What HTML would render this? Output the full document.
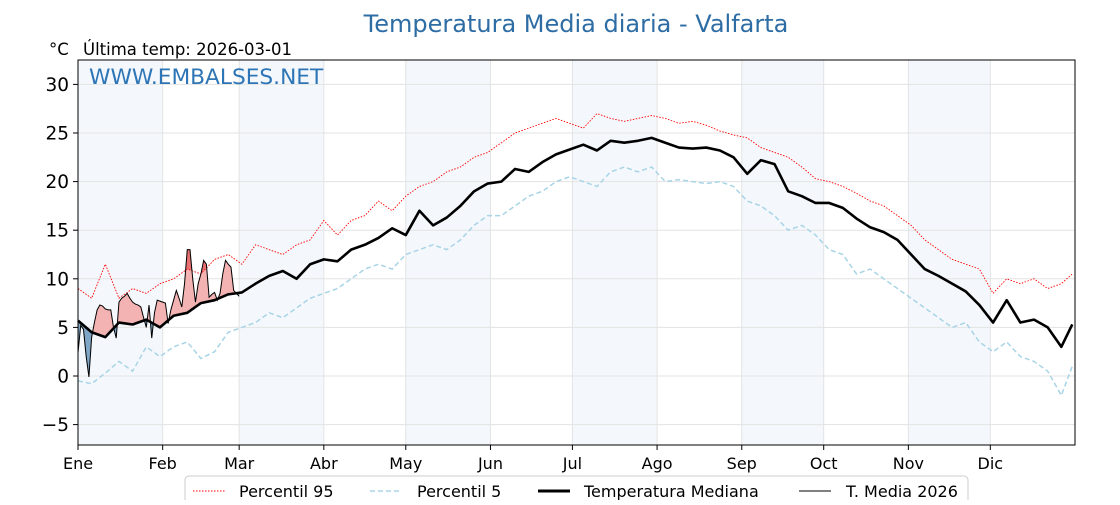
<!DOCTYPE html>
<html><head><meta charset="utf-8"><style>
body{margin:0;background:#fff;}
svg text{font-family:"DejaVu Sans","Liberation Sans",sans-serif;}
</style></head><body>
<svg id="chart" width="1120" height="500" xmlns="http://www.w3.org/2000/svg">
<text x="576" y="32" text-anchor="middle" font-size="24" fill="#2e6da4">Temperatura Media diaria - Valfarta</text>
<text x="49" y="55" font-size="16.5" fill="#000">°C</text>
<text x="83" y="55" font-size="16.5" fill="#000">Última temp: 2026-03-01</text>
<g id="bands"></g><g id="grid"></g><g id="fills"></g><g id="lines"></g>
<rect x="78" y="60" width="997" height="385" fill="none" stroke="#000" stroke-width="1"/>
<text x="89" y="84" font-size="21.7" fill="#2e75b6">WWW.EMBALSES.NET</text>
<g id="axes"></g>
<g>
<rect x="185" y="476" width="783" height="34" rx="4" fill="#fff" stroke="#ccc"/>
<g><line x1="193" y1="491" x2="225" y2="491" stroke="red" stroke-width="1" stroke-dasharray="1.5,1.5"/><text x="239" y="497" font-size="16">Percentil 95</text></g>
<g><line x1="370" y1="491" x2="402" y2="491" stroke="#a8d4e6" stroke-width="1.5" stroke-dasharray="5,3"/><text x="417" y="497" font-size="16">Percentil 5</text></g>
<g><line x1="538" y1="491" x2="570" y2="491" stroke="#000" stroke-width="3"/><text x="584" y="497" font-size="16">Temperatura Mediana</text></g>
<g><line x1="799" y1="491" x2="831" y2="491" stroke="#000" stroke-width="1"/><text x="846" y="497" font-size="16">T. Media 2026</text></g>
</g>
</svg>
<script>
const months=["Ene","Feb","Mar","Abr","May","Jun","Jul","Ago","Sep","Oct","Nov","Dic"];
const monthStart=[0,31,59,90,120,151,181,212,243,273,304,334];
const yTicks=[-5,0,5,10,15,20,25,30];
const sampleDays=[0,5,10,15,20,25,30,35,40,45,50,55,60,65,70,75,80,85,90,95,100,105,110,115,120,125,130,135,140,145,150,155,160,165,170,175,180,185,190,195,200,205,210,215,220,225,230,235,240,245,250,255,260,265,270,275,280,285,290,295,300,305,310,315,320,325,330,335,340,345,350,355,360,364];
const median=[5.7,4.5,4.0,5.5,5.3,5.8,5.0,6.2,6.5,7.5,7.8,8.4,8.6,9.5,10.3,10.8,10.0,11.5,12.0,11.8,13.0,13.5,14.2,15.2,14.5,17.0,15.5,16.3,17.5,19.0,19.8,20.0,21.3,21.0,22.0,22.8,23.3,23.8,23.2,24.2,24.0,24.2,24.5,24.0,23.5,23.4,23.5,23.2,22.5,20.8,22.2,21.8,19.0,18.5,17.8,17.8,17.3,16.2,15.3,14.8,14.0,12.5,11.0,10.3,9.5,8.7,7.3,5.5,7.8,5.5,5.8,5.0,3.0,5.3];
const p95=[9.0,8.0,11.5,8.0,9.0,8.5,9.5,10.0,11.0,10.5,12.0,12.5,11.5,13.5,13.0,12.5,13.5,14.0,16.0,14.5,16.0,16.5,18.0,17.0,18.5,19.5,20.0,21.0,21.5,22.5,23.0,24.0,25.0,25.5,26.0,26.5,26.0,25.5,27.0,26.5,26.2,26.5,26.8,26.5,26.0,26.2,25.8,25.2,24.8,24.5,23.5,23.0,22.5,21.5,20.3,20.0,19.5,18.8,18.0,17.5,16.5,15.5,14.0,13.0,12.0,11.5,11.0,8.5,10.0,9.5,10.0,9.0,9.5,10.5];
const p5=[-0.5,-0.8,0.3,1.5,0.5,3.0,2.0,3.0,3.5,1.8,2.5,4.5,5.0,5.5,6.5,6.0,7.0,8.0,8.5,9.0,10.0,11.0,11.5,11.0,12.5,13.0,13.5,13.0,14.0,15.5,16.5,16.5,17.5,18.5,19.0,20.0,20.5,20.0,19.5,21.0,21.5,21.0,21.5,20.0,20.2,20.0,19.8,20.0,19.5,18.0,17.5,16.5,15.0,15.5,14.5,13.0,12.5,10.5,11.0,10.0,9.0,8.0,7.0,6.0,5.0,5.5,3.5,2.5,3.5,2.0,1.5,0.5,-2.0,1.0];
const t2026=[2.4,5.2,4.8,2.0,-0.1,4.0,5.5,6.8,7.3,7.2,6.9,6.8,6.8,5.0,3.9,7.6,8.0,8.2,8.5,8.0,7.6,7.4,7.3,7.1,6.0,5.0,7.3,3.9,6.5,7.8,7.7,7.6,7.5,5.4,6.8,7.8,8.8,8.0,7.1,9.5,13.0,13.0,10.0,7.6,9.5,10.5,11.9,11.5,8.1,8.4,8.6,7.8,8.5,10.5,11.9,11.5,11.2,8.8,8.5,8.2];

const NS="http://www.w3.org/2000/svg";
const X=d=>78+d*997/365, Y=v=>376-v*9.72;
function el(tag,attrs,parent){const e=document.createElementNS(NS,tag);for(const k in attrs)e.setAttribute(k,attrs[k]);parent.appendChild(e);return e;}
const bands=document.getElementById('bands'),grid=document.getElementById('grid'),fills=document.getElementById('fills'),lines=document.getElementById('lines'),axes=document.getElementById('axes');
const ends=monthStart.concat([365]);
for(let i=0;i<12;i+=2){
  const r=el('rect',{x:X(ends[i]),y:60,width:X(ends[i+1])-X(ends[i]),height:385,fill:'#f4f8fc'},bands);
  
  
}
yTicks.forEach(v=>{
  const g=el('line',{x1:78,x2:1075,y1:Y(v),y2:Y(v),stroke:'#e3e3e3','stroke-width':1},grid);
  
  
  el('line',{x1:73,x2:78,y1:Y(v),y2:Y(v),stroke:'#000'},axes);
  const t=el('text',{x:69,y:Y(v)+6.5,'text-anchor':'end','font-size':18.5},axes);
  t.textContent=v<0?'\u2212'+Math.abs(v):String(v);
  
  
});
months.forEach((m,i)=>{
  const x=X(monthStart[i]);
  if(i>0){const g=el('line',{x1:x,x2:x,y1:60,y2:445,stroke:'#e3e3e3'},grid);
  
  }
  el('line',{x1:x,x2:x,y1:445,y2:450,stroke:'#000'},axes);
  const t=el('text',{x:x,y:469,'text-anchor':'middle','font-size':16},axes);
  t.textContent=m;
  
  
});
function interp(arr,d){for(let i=0;i<sampleDays.length-1;i++){if(d<=sampleDays[i+1]){const f=(d-sampleDays[i])/(sampleDays[i+1]-sampleDays[i]);return arr[i]+f*(arr[i+1]-arr[i]);}}return arr[arr.length-1];}
const pts=arr=>sampleDays.map((d,i)=>X(d)+','+Y(arr[i])).join(' ');
const defs=el('defs',{},fills);
const n=t2026.length;
const medPath=[];for(let d=0;d<n;d++)medPath.push([X(d),Y(interp(median,d))]);
const p95Path=[];for(let d=0;d<n;d++)p95Path.push([X(d),Y(interp(p95,d))]);
const tPath=t2026.map((v,d)=>[X(d),Y(v)]);
const s=a=>a.map(p=>p[0]+','+p[1]).join(' ');
function clip(id,path,above){const c=el('clipPath',{id:id},defs);const edge=above?60:445;el('polygon',{points:X(0)+','+edge+' '+s(path)+' '+X(n-1)+','+edge},c);}
clip('aboveMed',medPath,true);clip('belowMed',medPath,false);clip('aboveP95',p95Path,true);
const between=s(tPath)+' '+s(medPath.slice().reverse());
const fr=el('polygon',{points:between,fill:'#f4b3b3','clip-path':'url(#aboveMed)'},fills);


const fb=el('polygon',{points:between,fill:'#7fa6c6','clip-path':'url(#belowMed)'},fills);


const fd=el('polygon',{points:s(tPath)+' '+s(p95Path.slice().reverse()),fill:'#e87070','clip-path':'url(#aboveP95)'},fills);


const l1=el('polyline',{points:pts(p95),fill:'none',stroke:'red','stroke-width':0.9,'stroke-dasharray':'1.5,1.5'},lines);


const l2=el('polyline',{points:pts(p5),fill:'none',stroke:'#a8d4e6','stroke-width':1.5,'stroke-dasharray':'5,3'},lines);


const l3=el('polyline',{points:pts(median),fill:'none',stroke:'#000','stroke-width':2.6,'stroke-linejoin':'round'},lines);


const l4=el('polyline',{points:s(tPath),fill:'none',stroke:'#000','stroke-width':1},lines);


</script>
</body></html>
